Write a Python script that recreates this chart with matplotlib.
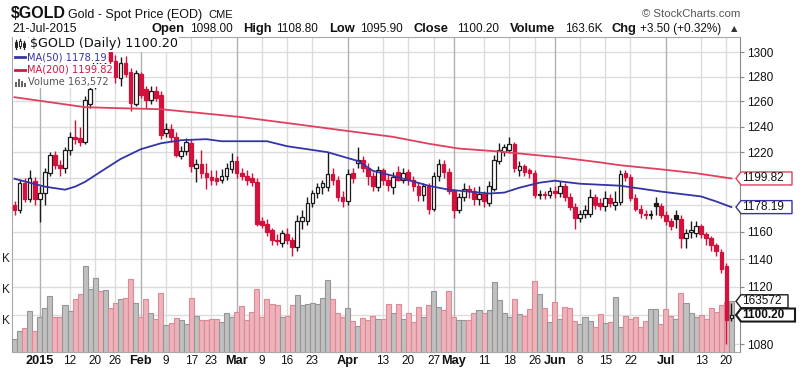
import numpy as np
import pandas as pd
import matplotlib
matplotlib.use("Agg")
import matplotlib.pyplot as plt
from matplotlib.patches import Rectangle, Polygon
from matplotlib.lines import Line2D
from matplotlib.ticker import NullLocator, FixedLocator, NullFormatter

plt.rcParams['font.family'] = ['Liberation Sans', 'DejaVu Sans']

# ---------------- data ----------------
holidays = ["2014-12-25", "2015-01-01", "2015-01-19", "2015-02-16",
            "2015-04-03", "2015-05-25", "2015-07-03"]
dates = pd.bdate_range("2014-12-24", "2015-07-21").difference(pd.to_datetime(holidays))

opens = [1180, 1176, 1196, 1184, 1198, 1184, 1189, 1204, 1218, 1210,
         1208, 1222, 1232, 1231, 1228, 1258, 1272, 1294, 1292, 1300,
         1293, 1279, 1291, 1284, 1258, 1282, 1270, 1261, 1268, 1265,
         1235, 1238, 1232, 1217, 1221, 1227, 1208, 1211, 1204, 1201,
         1200, 1199, 1202, 1207, 1213, 1204, 1202, 1200, 1197, 1168,
         1166, 1161, 1154, 1152, 1158, 1154, 1149, 1168, 1168, 1181,
         1189, 1193, 1193, 1203, 1199, 1186, 1183, 1204, 1212, 1214,
         1208, 1202, 1193, 1206, 1199, 1193, 1205, 1199, 1205, 1199,
         1194, 1187, 1194, 1177, 1202, 1211, 1205, 1190, 1176, 1186,
         1192, 1190, 1184, 1188, 1181, 1192, 1213, 1220, 1222, 1226,
         1206, 1209, 1206, 1204, 1187, 1188, 1187, 1190, 1189, 1194,
         1186, 1178, 1170, 1173, 1173, 1186, 1181, 1179, 1185, 1180,
         1182, 1204, 1201, 1185, 1177, 1173, 1172, 1181, 1179, 1172,
         1168, 1172, 1169, 1155, 1160, 1159, 1164, 1158, 1155, 1150,
         1145, 1135, 1098.0]
highs = [1183, 1199, 1200, 1206, 1201, 1194, 1208, 1220, 1221, 1214,
         1224, 1236, 1245, 1240, 1264, 1274, 1297, 1300, 1305, 1305,
         1298, 1296, 1297, 1287, 1285, 1284, 1272, 1272, 1272, 1268,
         1243, 1242, 1236, 1225, 1231, 1230, 1215, 1222, 1212, 1206,
         1206, 1207, 1212, 1219, 1217, 1208, 1206, 1204, 1200, 1171,
         1169, 1163, 1158, 1161, 1163, 1156, 1172, 1176, 1186, 1191,
         1196, 1199, 1220, 1208, 1202, 1190, 1207, 1208, 1224, 1217,
         1212, 1205, 1209, 1208, 1203, 1205, 1209, 1208, 1207, 1202,
         1197, 1196, 1196, 1205, 1215, 1214, 1208, 1192, 1189, 1196,
         1195, 1193, 1194, 1190, 1198, 1218, 1227, 1226, 1232, 1228,
         1213, 1211, 1208, 1206, 1191, 1190, 1193, 1194, 1198, 1196,
         1189, 1181, 1176, 1180, 1192, 1188, 1185, 1190, 1188, 1190,
         1206, 1206, 1203, 1188, 1180, 1176, 1176, 1186, 1181, 1175,
         1170, 1176, 1172, 1162, 1168, 1168, 1166, 1160, 1157, 1152,
         1147, 1137, 1108.8]
lows = [1172, 1174, 1182, 1182, 1180, 1167, 1180, 1202, 1207, 1202,
        1204, 1218, 1226, 1225, 1226, 1255, 1270, 1284, 1283, 1288,
        1275, 1272, 1280, 1252, 1256, 1263, 1255, 1258, 1260, 1230,
        1232, 1228, 1216, 1215, 1218, 1205, 1197, 1200, 1192, 1195,
        1195, 1196, 1199, 1204, 1200, 1199, 1195, 1194, 1164, 1163,
        1157, 1150, 1150, 1149, 1151, 1142, 1146, 1162, 1165, 1178,
        1185, 1188, 1190, 1195, 1183, 1178, 1180, 1196, 1208, 1205,
        1195, 1190, 1190, 1195, 1190, 1188, 1198, 1196, 1195, 1190,
        1183, 1183, 1173, 1175, 1198, 1200, 1188, 1170, 1174, 1183,
        1185, 1180, 1180, 1178, 1179, 1190, 1211, 1217, 1219, 1205,
        1202, 1202, 1200, 1185, 1184, 1184, 1185, 1185, 1186, 1183,
        1176, 1162, 1167, 1170, 1171, 1177, 1176, 1175, 1178, 1176,
        1180, 1198, 1183, 1175, 1170, 1169, 1169, 1172, 1170, 1165,
        1161, 1163, 1148, 1148, 1155, 1156, 1155, 1150, 1146, 1142,
        1130, 1080, 1095.9]
closes = [1176, 1196, 1184, 1200, 1184, 1189, 1205, 1218, 1210, 1208,
          1222, 1232, 1230, 1228, 1261, 1270, 1294, 1292, 1301, 1293,
          1280, 1291, 1282, 1259, 1283, 1265, 1261, 1268, 1263, 1233,
          1238, 1232, 1218, 1221, 1228, 1209, 1211, 1204, 1201, 1199,
          1198, 1202, 1208, 1213, 1204, 1202, 1199, 1197, 1166, 1165,
          1160, 1154, 1153, 1159, 1154, 1149, 1168, 1171, 1181, 1189,
          1193, 1196, 1203, 1199, 1186, 1183, 1203, 1200, 1214, 1208,
          1202, 1194, 1206, 1199, 1195, 1201, 1199, 1204, 1199, 1194,
          1187, 1194, 1177, 1202, 1211, 1205, 1190, 1176, 1186, 1192,
          1190, 1184, 1188, 1183, 1194, 1214, 1222, 1224, 1226, 1208,
          1209, 1205, 1204, 1187, 1188, 1187, 1190, 1189, 1194, 1186,
          1178, 1170, 1173, 1176, 1186, 1180, 1179, 1185, 1181, 1182,
          1203, 1201, 1185, 1177, 1174, 1172, 1173, 1179, 1172, 1168,
          1164, 1169, 1155, 1159, 1161, 1164, 1158, 1155, 1150, 1146,
          1133, 1096.7, 1100.2]
volumes_k = [42, 68, 78, 132, 68, 114, 143, 181, 114, 114,
             152, 132, 171, 187, 277, 204, 240, 197, 200, 143,
             159, 171, 174, 235, 159, 114, 171, 127, 106, 190,
             87, 95, 109, 103, 90, 174, 116, 103, 103, 107,
             107, 97, 125, 112, 129, 148, 103, 129, 204, 114,
             171, 156, 152, 114, 116, 151, 183, 152, 156, 159,
             156, 174, 232, 171, 125, 114, 143, 100, 84, 111,
             103, 116, 105, 105, 154, 125, 154, 107, 127, 97,
             146, 113, 151, 197, 146, 134, 197, 113, 103, 103,
             103, 127, 134, 125, 134, 227, 167, 127, 113, 170,
             122, 116, 138, 229, 188, 141, 97, 161, 107, 146,
             143, 100, 89, 114, 100, 81, 124, 95, 97, 178,
             81, 116, 108, 113, 81, 100, 138, 138, 91, 138,
             116, 108, 191, 157, 125, 114, 119, 105, 143, 129,
             152, 160, 163.572]

ma50_dates = ["2014-12-24", "2015-01-05", "2015-01-09", "2015-01-13", "2015-01-15",
              "2015-01-21", "2015-01-27", "2015-02-02", "2015-02-06", "2015-02-12",
              "2015-02-20", "2015-02-25", "2015-03-04", "2015-03-10", "2015-03-16",
              "2015-03-26", "2015-04-06", "2015-04-09", "2015-04-15", "2015-04-24",
              "2015-04-30", "2015-05-12", "2015-05-15", "2015-05-20", "2015-05-27",
              "2015-06-01", "2015-06-08", "2015-06-18", "2015-06-30", "2015-07-13",
              "2015-07-16", "2015-07-21"]
ma50 = [1199.6, 1193.6, 1191.3, 1193.6, 1197.3, 1204.8, 1214.7, 1222.3, 1226.9, 1229.3,
        1230.1, 1228.5, 1228.5, 1228.5, 1224.6, 1220.0, 1213.2, 1205.6, 1201.8, 1194.3,
        1191.3, 1188.4, 1189.1, 1192.8, 1196.6, 1198.1, 1195.8, 1194.3, 1189.9, 1186.2,
        1182.4, 1178.19]
ma200_dates = ["2014-12-24", "2015-01-06", "2015-01-15", "2015-01-27", "2015-02-06",
               "2015-02-19", "2015-03-03", "2015-03-11", "2015-03-19", "2015-04-01",
               "2015-04-15", "2015-04-24", "2015-05-04", "2015-05-14", "2015-05-22",
               "2015-06-02", "2015-06-12", "2015-06-18", "2015-06-30", "2015-07-10",
               "2015-07-21"]
ma200 = [1263.3, 1259.3, 1255.3, 1254.5, 1253.7, 1250.6, 1247.4, 1244.3, 1241.2, 1236.5,
         1231.9, 1226.6, 1222.8, 1220.5, 1218.2, 1216.0, 1212.1, 1209.9, 1206.8, 1203.8,
         1199.82]

tick_dates = ["2015-01-02", "2015-01-12", "2015-01-20", "2015-01-26", "2015-02-02",
              "2015-02-09", "2015-02-17", "2015-02-23", "2015-03-02", "2015-03-09",
              "2015-03-16", "2015-03-23", "2015-04-01", "2015-04-13", "2015-04-20",
              "2015-04-27", "2015-05-01", "2015-05-11", "2015-05-18", "2015-05-26",
              "2015-06-01", "2015-06-08", "2015-06-15", "2015-06-22", "2015-07-01",
              "2015-07-13", "2015-07-20"]
tick_texts = ["2015", "12", "20", "26", "Feb", "9", "17", "23", "Mar", "9", "16", "23",
              "Apr", "13", "20", "27", "May", "11", "18", "26", "Jun", "8", "15", "22",
              "Jul", "13", "20"]
price_ticks = [1080, 1100, 1120, 1140, 1160, 1180, 1200, 1220, 1240, 1260, 1280, 1300]
hidden_price_labels = [1100, 1180, 1200]   # covered by the value tags in the reference
vol_ticks_k = [100, 200, 300]

# ---------------- layout ----------------
W, H = 800, 372
fig = plt.figure(figsize=(W / 100, H / 100), dpi=100)
fig.patch.set_facecolor('white')

def fx(x):
    return x / W

def fy(y):
    return 1 - y / H

L, R, T, B = 12, 740, 37, 352
pos = [fx(L), fy(B), fx(R) - fx(L), fy(T) - fy(B)]

n = len(closes)
idx = np.arange(n)
date_index = {d.strftime("%Y-%m-%d"): i for i, d in enumerate(dates)}
XMIN, XMAX = -0.5, 143.7
PMIN, PMAX = 1074.7, 1312.5

RED = '#d4103c'
BLACK = '#1a1a1a'
BLUE = '#3434a6'
MARED = '#e0405e'

# background axes: grid + frame
axg = fig.add_axes(pos)
axg.set_yscale('log')
axg.set_xlim(XMIN, XMAX)
axg.set_ylim(PMIN, PMAX)
axg.set_facecolor('white')
axg.set_xticks([])
axg.yaxis.set_major_locator(NullLocator())
axg.yaxis.set_minor_locator(NullLocator())
axg.yaxis.set_major_formatter(NullFormatter())
axg.yaxis.set_minor_formatter(NullFormatter())
for p in price_ticks:
    axg.axhline(p, color='#dcdcdc', lw=1.0, zorder=0)
tick_idx = [date_index[d] for d in tick_dates]
for ti, tt in zip(tick_idx, tick_texts):
    major = not tt.isdigit() or len(tt) == 4
    axg.axvline(ti, color='#b0b0b0' if major else '#dcdcdc', lw=1.0, zorder=0)
for s in ['left', 'top', 'bottom']:
    axg.spines[s].set_color('#a8a8a8')
axg.spines['right'].set_color('#8a8a8a')

# volume axes
axv = fig.add_axes(pos)
axv.patch.set_visible(False)
axv.set_xlim(XMIN, XMAX)
axv.set_ylim(0, (B - T) / 0.31)
axv.axis('off')
vup = [True] + [closes[i] >= closes[i - 1] for i in range(1, n)]
vface = ['#c0c0c0' if u else '#ecb3ba' for u in vup]
vedge = ['#959595' if u else '#dd8a96' for u in vup]
axv.bar(idx, volumes_k, width=1.0, color=vface, edgecolor=vedge, linewidth=0.8, zorder=1)

# price axes (candles)
ax = fig.add_axes(pos)
ax.patch.set_visible(False)
ax.set_yscale('log')
ax.set_xlim(XMIN, XMAX)
ax.set_ylim(PMIN, PMAX)
ax.set_xticks([])
ax.yaxis.set_minor_locator(NullLocator())
ax.yaxis.set_minor_formatter(NullFormatter())
ax.yaxis.set_major_locator(FixedLocator(price_ticks))
ax.yaxis.tick_right()
ax.set_yticklabels(['' if p in hidden_price_labels else str(p) for p in price_ticks])
ax.tick_params(axis='y', which='major', length=3, width=0.8, color='#888888',
               labelsize=8.5, pad=2, labelcolor='#111111')
for s in ax.spines.values():
    s.set_visible(False)

w = 0.72
for i in range(n):
    o, h, l, c = opens[i], highs[i], lows[i], closes[i]
    prev = closes[i - 1] if i > 0 else o
    col = BLACK if c >= prev else RED
    hollow = c > o
    ax.vlines(i, l, h, color=col, lw=1.0, zorder=3)
    lo, hi = min(o, c), max(o, c)
    if hi - lo < 0.8:
        ax.hlines(c, i - w / 2, i + w / 2, color=col, lw=1.3, zorder=4)
    else:
        ax.add_patch(Rectangle((i - w / 2, lo), w, hi - lo,
                               facecolor='white' if hollow else col,
                               edgecolor=col, lw=0.9, zorder=4))

ax.plot([date_index[d] for d in ma200_dates], ma200, color=MARED, lw=1.3, zorder=5)
ax.plot([date_index[d] for d in ma50_dates], ma50, color=BLUE, lw=1.3, zorder=5)

fig.canvas.draw()

def ypx_price(p):
    return H - ax.transData.transform((0, p))[1]

def ypx_vol(v):
    return H - axv.transData.transform((0, v))[1]

def xpx(i):
    return ax.transData.transform((i, 1200))[0]

# x labels
for ti, tt in zip(tick_idx, tick_texts):
    major = not tt.isdigit() or len(tt) == 4
    fig.text(fx(xpx(ti)), fy(361), tt, ha='center', va='center',
             fontsize=9.2 if major else 8.5, fontweight='bold' if major else 'normal',
             color='#111111')

# volume "K" labels (cut at left edge)
for v in vol_ticks_k:
    fig.text(fx(10), fy(ypx_vol(v)), "K", ha='right', va='center', fontsize=8.5, color='#222222')

# price tags
def tag(yc, text, edge, bold=False, x0=736, x1=792, h=13, lw=1.0):
    pts = [(x0, yc), (x0 + 5, yc - h / 2), (x1, yc - h / 2), (x1, yc + h / 2), (x0 + 5, yc + h / 2)]
    poly = Polygon([(fx(a), fy(b)) for a, b in pts], closed=True, transform=fig.transFigure,
                   facecolor='white', edgecolor=edge, linewidth=lw, zorder=6)
    fig.add_artist(poly)
    t = fig.text(fx(x0 + 6), fy(yc), text, ha='left', va='center', fontsize=8.5,
                 fontweight='bold' if bold else 'normal', color='#111111', zorder=7)
    return t

tag(ypx_price(ma200[-1]), f"{ma200[-1]:.2f}", MARED)
tag(ypx_price(ma50[-1]), f"{ma50[-1]:.2f}", BLUE)
tag(ypx_vol(volumes_k[-1]), f"{int(round(volumes_k[-1] * 1000))}", BLACK, x1=788)
tag(ypx_price(closes[-1]), f"{closes[-1]:.2f}", BLACK, bold=True, x1=795, lw=1.5)

# legend (white backgrounds hide what is behind)
bb = dict(facecolor='white', edgecolor='none', pad=1.0)
fig.text(fx(30), fy(44), f"$GOLD (Daily) {closes[-1]:.2f}", family='DejaVu Sans',
         fontsize=9.2, color='#111111', va='center', ha='left', bbox=bb, zorder=8)
fig.text(fx(27), fy(57), f"MA(50) {ma50[-1]:.2f}", family='DejaVu Sans',
         fontsize=7.1, color=BLUE, va='center', ha='left', bbox=bb, zorder=8)
fig.text(fx(27), fy(70), f"MA(200) {ma200[-1]:.2f}", family='DejaVu Sans',
         fontsize=7.1, color='#d4163f', va='center', ha='left', bbox=bb, zorder=8)
fig.text(fx(28), fy(82), f"Volume {int(round(volumes_k[-1] * 1000)):,}", family='DejaVu Sans',
         fontsize=7.1, color='#555555', va='center', ha='left', bbox=bb, zorder=8)
fig.add_artist(Rectangle((fx(13), fy(89)), fx(15), fy(37) - fy(89), transform=fig.transFigure,
                         facecolor='white', edgecolor='none', zorder=7))
fig.add_artist(Line2D([fx(15), fx(25)], [fy(57), fy(57)], color=BLUE, lw=2, zorder=9))
fig.add_artist(Line2D([fx(15), fx(25)], [fy(70), fy(70)], color='#d4163f', lw=2, zorder=9))
# candle icon
for xx, y0, y1, b0, b1, filled in [(16, 40, 49, 42, 47, True), (20, 39, 48, 41, 46, False), (24, 41, 49, 43, 47, True)]:
    fig.add_artist(Line2D([fx(xx), fx(xx)], [fy(y0), fy(y1)], color='#222222', lw=0.9, zorder=9))
    fig.add_artist(Rectangle((fx(xx - 1.3), fy(b1)), fx(2.6), fy(b0) - fy(b1), transform=fig.transFigure,
                             facecolor='#222222' if filled else 'white', edgecolor='#222222', lw=0.7, zorder=10))
# volume icon
for xx, hh in [(16, 5), (19, 8), (22, 6), (25, 4)]:
    fig.add_artist(Rectangle((fx(xx - 1), fy(87)), fx(2), fy(87 - hh) - fy(87), transform=fig.transFigure,
                             facecolor='#666666', edgecolor='none', zorder=9))

# header
fig.text(fx(11), fy(14), "$GOLD", fontweight='bold', fontsize=11.5,
         ha='left', va='center', color='#111111')
fig.text(fx(68), fy(15), "Gold - Spot Price (EOD)", fontsize=9, ha='left', va='center', color='#111111')
fig.text(fx(208), fy(15.5), "CME", fontsize=8, ha='left', va='center', color='#111111')
fig.text(fx(740), fy(14), "\u00a9 StockCharts.com", fontsize=8.2, ha='right', va='center', color='#555555')
fig.text(fx(12), fy(29), "21-Jul-2015", fontsize=8.8, ha='left', va='center', color='#111111')

hdr = [(152, "Open", True), (190, "1098.00", False), (243, "High", True), (276, "1108.80", False),
       (329, "Low", True), (360, "1095.90", False), (413, "Close", True), (457, "1100.20", False),
       (510, "Volume", True), (565, "163.6K", False), (612, "Chg", True), (640, "+3.50 (+0.32%)", False)]
for xx, tt, bold in hdr:
    fig.text(fx(xx), fy(29), tt, fontsize=9.3 if bold else 8.5, fontweight='bold' if bold else 'normal',
             ha='left', va='center', color='#111111')
fig.text(fx(734), fy(28.5), "\u25b2", fontsize=6, ha='center', va='center', color='#333333',
         family=['DejaVu Sans'])

fig.savefig("out.png", dpi=100, facecolor='white')
